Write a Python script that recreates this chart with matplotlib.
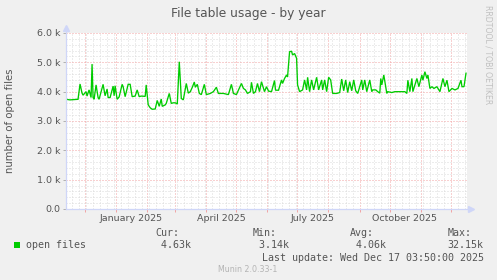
import matplotlib
matplotlib.use('Agg')
import matplotlib.pyplot as plt
import matplotlib.dates as mdates
from matplotlib.patches import Rectangle
from matplotlib.ticker import MultipleLocator, FixedLocator
import datetime as dt
import numpy as np

# ---------------- data ----------------
start = dt.datetime(2024, 11, 12, 3, 50)
end = dt.datetime(2025, 12, 17, 3, 50)

day_offsets = [0, 4, 8, 12, 14, 16, 17, 20, 21, 23, 25, 26, 27, 28, 30, 32, 33, 37, 39, 41,
               42, 44, 47, 48, 49, 51, 53, 56, 57, 59, 62, 64, 66, 69, 71, 73, 75, 79, 80, 82,
               84, 86, 89, 91, 93, 95, 96, 99, 100, 103, 105, 107, 109, 111, 113, 115, 117, 120, 122, 124,
               126, 128, 129, 131, 133, 135, 138, 140, 144, 147, 150, 152, 157, 162, 165, 167, 170, 175, 177, 179,
               181, 184, 185, 187, 189, 191, 193, 195, 198, 200, 202, 205, 208, 209, 212, 215, 216, 218, 220, 221,
               223, 225, 226, 228, 230, 231, 233, 236, 238, 240, 241, 243, 245, 247, 250, 252, 255, 256, 258, 260,
               262, 264, 266, 270, 273, 275, 277, 279, 281, 283, 285, 287, 289, 291, 295, 296, 298, 300, 303, 305,
               306, 309, 311, 313, 314, 315, 317, 320, 321, 325, 328, 331, 335, 338, 340, 341, 343, 345, 346, 348,
               350, 352, 355, 356, 358, 360, 361, 363, 365, 367, 370, 373, 376, 378, 380, 382, 385, 388, 391, 394,
               395, 397, 399]
open_files_k = [3.74, 3.72, 3.73, 3.74, 4.26, 3.95, 3.88, 4.00, 3.85, 4.06, 3.80, 4.94, 3.80, 3.74, 4.23, 3.80, 3.74, 4.25, 3.86, 4.09,
                3.80, 3.80, 4.19, 3.86, 4.20, 3.74, 3.82, 4.25, 4.17, 3.83, 4.25, 4.25, 3.83, 3.85, 4.06, 3.83, 3.85, 3.84, 4.23, 3.55,
                3.45, 3.40, 3.41, 3.70, 3.50, 3.75, 3.50, 3.55, 3.60, 3.94, 3.60, 3.62, 3.62, 3.58, 5.02, 3.77, 3.72, 4.28, 3.95, 4.00,
                4.15, 4.33, 4.15, 4.25, 3.94, 3.90, 4.25, 3.90, 3.94, 4.00, 4.15, 3.94, 3.94, 3.90, 4.25, 3.94, 3.90, 4.28, 4.11, 4.06,
                3.94, 4.00, 4.32, 3.94, 4.00, 4.28, 4.00, 4.34, 4.00, 4.17, 4.02, 4.00, 4.38, 4.05, 4.05, 4.40, 4.28, 4.45, 4.57, 4.50,
                5.36, 5.38, 5.25, 5.30, 5.14, 4.23, 4.00, 4.06, 4.40, 4.06, 4.49, 4.00, 4.40, 4.06, 4.49, 4.06, 4.40, 4.06, 4.40, 4.00,
                4.49, 4.40, 3.94, 3.94, 3.97, 4.43, 4.03, 4.40, 3.97, 4.34, 4.03, 4.40, 4.03, 3.94, 4.40, 4.06, 4.40, 4.00, 4.40, 4.00,
                4.06, 4.06, 4.00, 3.95, 4.45, 4.23, 4.57, 3.94, 4.00, 3.97, 4.00, 4.00, 4.00, 4.00, 3.94, 4.39, 4.00, 4.45, 4.00, 4.23,
                4.45, 4.17, 4.57, 4.39, 4.68, 4.45, 4.57, 4.11, 4.17, 4.11, 4.17, 4.00, 4.45, 4.17, 4.39, 4.00, 4.11, 4.06, 4.11, 4.39,
                4.17, 4.17, 4.63]

y_ticks_k = [0, 1, 2, 3, 4, 5, 6]
y_tick_labels = ['0.0', '1.0 k', '2.0 k', '3.0 k', '4.0 k', '5.0 k', '6.0 k']
x_label_dates = [dt.datetime(2025, 1, 16), dt.datetime(2025, 4, 16),
                 dt.datetime(2025, 7, 16), dt.datetime(2025, 10, 16)]
x_label_texts = ['January 2025', 'April 2025', 'July 2025', 'October 2025']

title = 'File table usage - by year'
ylabel = 'number of open files'
series_name = 'open files'
stat_names = ['Cur:', 'Min:', 'Avg:', 'Max:']
stat_values = [' 4.63k', ' 3.14k', ' 4.06k', '32.15k']
last_update = 'Last update: Wed Dec 17 03:50:00 2025'
version = 'Munin 2.0.33-1'
side_text = 'RRDTOOL / TOBI OETIKER'

# ---------------- style ----------------
W, H = 497, 280
BG = '#F0F0F0'
FONT = '#555555'
LINE = '#00CC00'
MAJOR = '#F2A3A3'
MINOR = '#DADADA'
AXIS = '#CFD6F8'

fig = plt.figure(figsize=(W / 100, H / 100), dpi=100, facecolor=BG)
L, R, T, B = 66, 467, 33, 209
ax = fig.add_axes([L / W, (H - B) / H, (R - L) / W, (B - T) / H])
ax.set_facecolor('white')

dates = [start + dt.timedelta(days=d) for d in day_offsets]
ax.plot(dates, np.array(open_files_k) * 1000, color=LINE, lw=0.95, zorder=5,
        solid_joinstyle='miter')

ax.set_xlim(start, end)
ax.set_ylim(0, 6000)

# grid
ax.xaxis.set_major_locator(mdates.MonthLocator())
ax.xaxis.set_minor_locator(mdates.WeekdayLocator(byweekday=mdates.MO))
ax.yaxis.set_major_locator(FixedLocator([v * 1000 for v in y_ticks_k]))
ax.yaxis.set_minor_locator(MultipleLocator(200))
dash = (0, (1, 2))
ax.grid(which='minor', color=MINOR, lw=0.72, linestyle=dash, zorder=1)
ax.grid(which='major', color=MAJOR, lw=0.72, linestyle=dash, zorder=2)
ax.set_axisbelow(True)

ax.set_yticklabels(y_tick_labels)
ax.set_xticklabels([])
ax.tick_params(axis='y', which='major', length=2, width=0.7, color='#B0B0B0',
               labelsize=6.8, labelcolor=FONT, pad=2.2)
ax.tick_params(axis='x', which='major', length=2, width=0.7, color=MAJOR)
ax.tick_params(which='minor', length=0)
for lbl in ax.get_yticklabels():
    lbl.set_fontfamily('DejaVu Sans')

for s in ax.spines.values():
    s.set_visible(False)

# axes with arrows
ax.plot([0, 0], [0, 1.02], transform=ax.transAxes, color=AXIS, lw=0.9, clip_on=False, zorder=6)
ax.plot([0, 1.007], [0, 0], transform=ax.transAxes, color=AXIS, lw=0.9, clip_on=False, zorder=6)
ax.plot([0], [1.03], marker='^', ms=4.5, color=AXIS, transform=ax.transAxes, clip_on=False, zorder=6)
ax.plot([1.01], [0], marker='>', ms=4.5, color=AXIS, transform=ax.transAxes, clip_on=False, zorder=6)

# x labels at mid-month positions
for d, t in zip(x_label_dates, x_label_texts):
    ax.text(d, -0.028, t, transform=ax.get_xaxis_transform(), ha='center', va='top',
            fontsize=6.8, color=FONT, family='DejaVu Sans')

# texts
def px(x, y):
    return x / W, 1 - y / H

fig.text(*px(248, 13), title, ha='center', va='center', fontsize=8.8, color=FONT,
         family='DejaVu Sans')
fig.text(*px(10, 121), ylabel, ha='center', va='center', rotation=90, fontsize=7.3,
         color=FONT, family='DejaVu Sans')
fig.text(*px(488, 5), side_text, ha='center', va='top', rotation=270, fontsize=5.6,
         color='#C0C0C0', family='DejaVu Sans')

mono = dict(family='DejaVu Sans Mono', fontsize=7.2, color=FONT, va='center', ha='left')
stat_x = [155, 252.7, 350, 447.7]
for x, n, v in zip(stat_x, stat_names, stat_values):
    fig.text(*px(x, 233.5), n, **mono)
    fig.text(*px(x, 245.3), v, **mono)
fig.text(*px(26.5, 245.3), series_name, **mono)
fig.text(*px(483.5, 257.7), last_update, **{**mono, 'ha': 'right'})
fig.patches.append(Rectangle(px(14, 248), 6 / W, 6 / H, transform=fig.transFigure,
                             facecolor=LINE, edgecolor='none'))
fig.text(*px(248, 269.5), version, ha='center', va='center', fontsize=5.7,
         color='#B4B4B4', family='DejaVu Sans')

fig.savefig('out.png', dpi=100, facecolor=BG)
